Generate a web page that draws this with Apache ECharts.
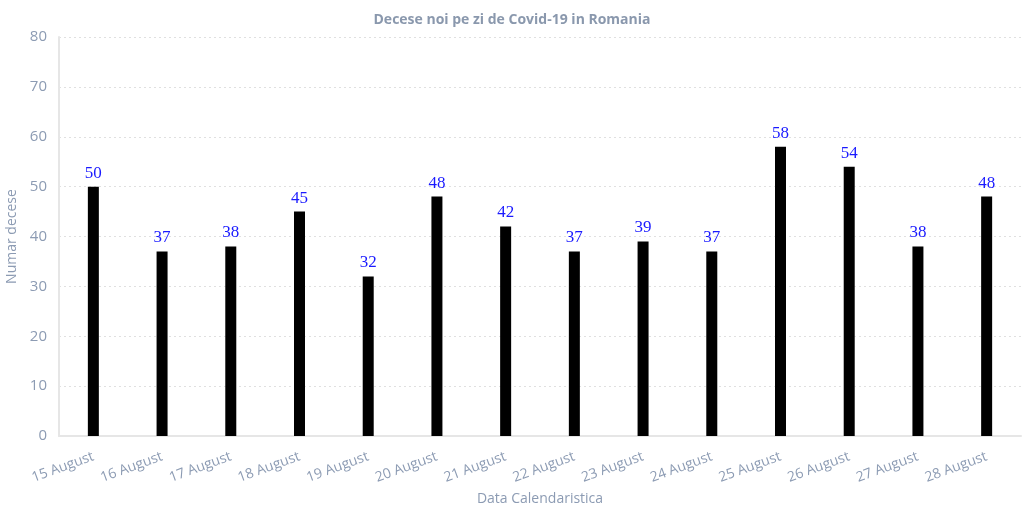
<!DOCTYPE html>
<html><head><meta charset="utf-8">
<script src="https://cdn.jsdelivr.net/npm/echarts@6/dist/echarts.min.js"></script>
<style>html,body{margin:0;padding:0;background:#fff}#c{width:1024px;height:512px}</style>
</head><body><div id="c"></div>
<script>
const categories = ["15 August","16 August","17 August","18 August","19 August","20 August","21 August","22 August","23 August","24 August","25 August","26 August","27 August","28 August"];
const deaths = [50,37,38,45,32,48,42,37,39,37,58,54,38,48];
const yTicks = [0,10,20,30,40,50,60,70,80];

const axisColor = '#8c9bb3';
const chart = echarts.init(document.getElementById('c'));
chart.setOption({
  animation: false,
  title: {
    text: 'Decese noi pe zi de Covid-19 in Romania',
    left: 'center', top: 8,
    textStyle: {fontFamily: 'Open Sans', fontSize: 14, fontWeight: 'bold', color: '#8a98ad'}
  },
  grid: {left: 59, right: 3, top: 37, bottom: 76, containLabel: false, outerBoundsMode: 'none'},
  xAxis: {
    type: 'category', data: categories,
    name: 'Data Calendaristica', nameLocation: 'middle', nameGap: 56,
    nameTextStyle: {fontFamily: 'Open Sans', fontSize: 14, color: axisColor},
    axisLine: {lineStyle: {color: '#e6e6e6', width: 2}},
    axisTick: {show: false},
    axisLabel: {rotate: 20, fontFamily: 'Open Sans', fontSize: 14, color: axisColor, margin: 20, interval: 0}
  },
  yAxis: {
    type: 'value', min: yTicks[0], max: yTicks[yTicks.length-1], interval: 10,
    name: 'Numar decese', nameLocation: 'middle', nameGap: 38,
    nameTextStyle: {fontFamily: 'Open Sans', fontSize: 14, color: axisColor},
    axisLine: {show: true, lineStyle: {color: '#e6e6e6', width: 2}},
    axisTick: {show: false},
    axisLabel: {fontFamily: 'Open Sans', fontSize: 15, color: axisColor, margin: 12},
    splitLine: {lineStyle: {color: '#e0e0e0', type: [2, 3]}}
  },
  series: [{
    type: 'bar', data: deaths, barWidth: 11,
    itemStyle: {color: '#000'},
    label: {show: true, position: 'top', distance: 5, fontFamily: 'Times New Roman, Liberation Serif, serif', fontSize: 17, color: '#1a1aff'}
  }]
});
</script></body></html>
